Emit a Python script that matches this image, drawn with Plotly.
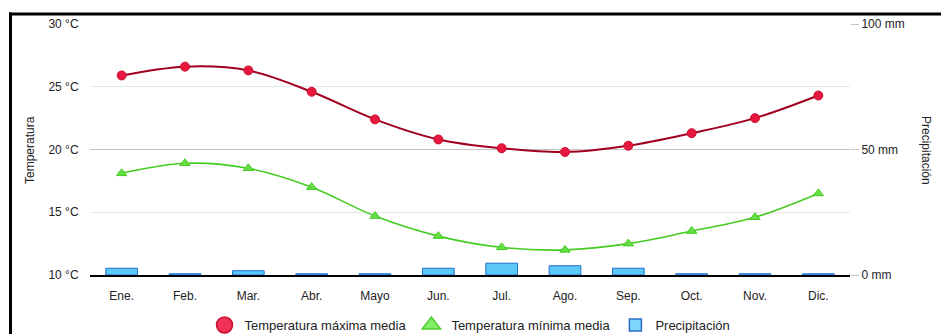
import plotly.graph_objects as go

months = ["Ene.", "Feb.", "Mar.", "Abr.", "Mayo", "Jun.", "Jul.", "Ago.", "Sep.", "Oct.", "Nov.", "Dic."]
temp_max = [25.9, 26.6, 26.3, 24.6, 22.4, 20.8, 20.1, 19.8, 20.3, 21.3, 22.5, 24.3]
temp_min = [18.1, 18.9, 18.5, 17.0, 14.7, 13.1, 12.2, 12.0, 12.5, 13.5, 14.6, 16.5]
precip = [2.7, 0.5, 1.7, 0.5, 0.5, 2.7, 4.7, 3.7, 2.7, 0.5, 0.5, 0.5]

temp_ticks = [10, 15, 20, 25, 30]
temp_ticklabels = ["10 °C", "15 °C", "20 °C", "25 °C", "30 °C"]
precip_ticks = [0, 50, 100]
precip_ticklabels = ["0 mm", "50 mm", "100 mm"]

FONT = "Liberation Sans, Arial, sans-serif"

fig = go.Figure()

fig.add_trace(go.Bar(
    x=months, y=precip, yaxis="y2", name="Precipitación",
    marker=dict(color="#5BC8F7", line=dict(color="#1F6FD0", width=1)),
    showlegend=False,
))
fig.add_trace(go.Scatter(
    x=months, y=temp_max, mode="lines+markers", name="Temperatura máxima media",
    line=dict(color="#A0001E", width=2, shape="spline", smoothing=1),
    marker=dict(symbol="circle", size=9, color="#E8173F", line=dict(color="#C8102E", width=1)),
    showlegend=False,
))
fig.add_trace(go.Scatter(
    x=months, y=temp_min, mode="lines+markers", name="Temperatura mínima media",
    line=dict(color="#44CC22", width=1.6, shape="spline", smoothing=1),
    marker=dict(symbol="triangle-up", size=9, color="#66DD44", line=dict(color="#44CC22", width=1)),
    showlegend=False,
))

# legend-only entries
fig.add_trace(go.Scatter(
    x=[None], y=[None], mode="markers", name="Temperatura máxima media",
    marker=dict(symbol="circle", size=20, color="#F0325A", line=dict(color="#C8102E", width=1.5)),
))
fig.add_trace(go.Scatter(
    x=[None], y=[None], mode="markers", name="Temperatura mínima media",
    marker=dict(symbol="triangle-up", size=20, color="#80EE66", line=dict(color="#55CC33", width=1.5)),
))
fig.add_trace(go.Bar(
    x=[None], y=[None], yaxis="y2", name="Precipitación",
    marker=dict(color="#7FD4FA", line=dict(color="#2A6FC9", width=1.5)),
))

L, R, T, B = 90, 91, 24, 59
W, H = 941, 334
pw = W - L - R
ph = H - T - B

def px_x(p):
    return (p - L) / pw

def px_y(p):
    return (H - B - p) / ph

fig.update_layout(
    width=W, height=H,
    margin=dict(l=L, r=R, t=T, b=B, pad=0, autoexpand=False),
    paper_bgcolor="white", plot_bgcolor="white",
    font=dict(family=FONT, size=12, color="#222222"),
    bargap=0.5,
    xaxis=dict(
        type="category", categoryorder="array", categoryarray=months,
        range=[-0.5, len(months) - 0.5],
        showgrid=False, showline=True, linecolor="#000000", linewidth=1.5,
        ticks="outside", ticklen=9, tickcolor="rgba(0,0,0,0)",
        tickfont=dict(family=FONT, size=12, color="#222222"),
        zeroline=False, automargin=False,
    ),
    yaxis=dict(
        range=[10, 30], tickvals=temp_ticks, ticktext=temp_ticklabels,
        showgrid=True, gridcolor="#E6E6E6", gridwidth=1,
        zeroline=False, showline=False,
        ticks="outside", ticklen=8, tickcolor="rgba(0,0,0,0)",
        tickfont=dict(family=FONT, size=12, color="#222222"),
        automargin=False,
    ),
    yaxis2=dict(
        overlaying="y", side="right", range=[0, 100],
        tickvals=precip_ticks, ticktext=precip_ticklabels,
        showgrid=True, gridcolor="#C4C4C4", gridwidth=1,
        zeroline=False, showline=False,
        ticks="outside", ticklen=8, tickcolor="#C4C4C4",
        tickfont=dict(family=FONT, size=12, color="#222222"),
        automargin=False,
    ),
    legend=dict(
        orientation="h", x=0.5, xanchor="center", y=px_y(325), yanchor="middle",
        font=dict(family=FONT, size=13, color="#222222"),
        bgcolor="rgba(0,0,0,0)", itemclick=False,
        traceorder="normal",
    ),
    showlegend=True,
    annotations=[
        dict(text="Temperatura", xref="paper", yref="paper", x=px_x(30), y=px_y(150),
             textangle=-90, showarrow=False, xanchor="center", yanchor="middle",
             font=dict(family=FONT, size=12, color="#222222")),
        dict(text="Precipitación", xref="paper", yref="paper", x=px_x(926), y=px_y(150),
             textangle=90, showarrow=False, xanchor="center", yanchor="middle",
             font=dict(family=FONT, size=12, color="#222222")),
    ],
    shapes=[
        dict(type="line", xref="paper", yref="paper", x0=px_x(9), x1=px_x(945),
             y0=px_y(14), y1=px_y(14), line=dict(color="#000000", width=3)),
        dict(type="line", xref="paper", yref="paper", x0=px_x(10.5), x1=px_x(10.5),
             y0=px_y(12.5), y1=px_y(340), line=dict(color="#000000", width=3)),
    ],
)

fig.write_html(
    "out.html",
    config={"displayModeBar": False},
    post_script="document.body.style.margin='0';document.body.style.overflow='hidden';",
)
